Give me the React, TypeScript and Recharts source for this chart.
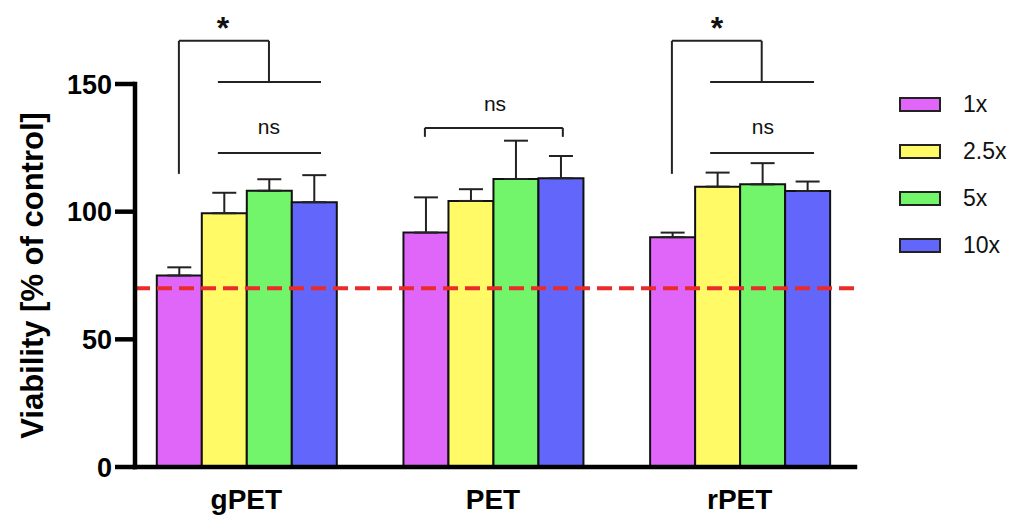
import React from 'react';
import { BarChart, Bar, XAxis, YAxis, ErrorBar, ReferenceLine, ReferenceDot } from 'recharts';

const categories = ['gPET', 'PET', 'rPET'];
const seriesNames = ['1x', '2.5x', '5x', '10x'];
const seriesColors = ['#E066FA', '#FFFA66', '#72F46B', '#6366FA'];
const values1x = [75, 91.8, 90];
const errors1x = [3.2, 13.8, 1.8];
const values25x = [99.4, 104.2, 109.8];
const errors25x = [8, 4.6, 5.5];
const values5x = [108.2, 112.8, 110.7];
const errors5x = [4.5, 15, 8.3];
const values10x = [103.7, 113.1, 108.1];
const errors10x = [10.6, 8.7, 3.7];
const yTicks = [0, 50, 100, 150];
const thresholdValue = 70;

// significance annotations: [xStart, yStart, xEnd, yEnd] on category index scale
const sigSegments: number[][] = [
  [-0.274, 114.8, -0.274, 166.9],
  [-0.274, 166.9, 0.091, 166.9],
  [0.091, 166.9, 0.091, 150.8],
  [-0.116, 150.8, 0.302, 150.8],
  [-0.116, 123, 0.302, 123],
  [0.723, 129.3, 0.723, 132.8],
  [0.723, 132.8, 1.282, 132.8],
  [1.282, 132.8, 1.282, 129.3],
  [1.724, 114.8, 1.724, 166.9],
  [1.724, 166.9, 2.088, 166.9],
  [2.088, 166.9, 2.088, 150.8],
  [1.879, 150.8, 2.3, 150.8],
  [1.879, 123, 2.3, 123],
];
const sigLabels = [
  { x: -0.095, y: 172, text: '*' },
  { x: 0.091, y: 133.5, text: 'ns' },
  { x: 1.007, y: 142.5, text: 'ns' },
  { x: 1.907, y: 172, text: '*' },
  { x: 2.093, y: 133.5, text: 'ns' },
];

const valueLists = [values1x, values25x, values5x, values10x];
const errorLists = [errors1x, errors25x, errors5x, errors10x];

const data = categories.map((c, i) => {
  const row: Record<string, any> = { name: c, idx: i };
  seriesNames.forEach((s, k) => {
    row['v' + k] = valueLists[k][i];
    row['e' + k] = [0, errorLists[k][i]];
  });
  return row;
});

const FONT = '"Liberation Sans", Arial, Helvetica, sans-serif';

export default function App() {
  return (
    <div style={{ position: 'relative', width: 1010, height: 512, fontFamily: FONT }}>
      <BarChart
        width={1010}
        height={512}
        data={data}
        margin={{ top: 76, right: 163, bottom: 0, left: 0 }}
        barCategoryGap="13.7%"
        barGap={0}
      >
        <XAxis
          xAxisId="cat"
          dataKey="name"
          padding={{ left: -12, right: -8 }}
          height={53}
          tickLine={false}
          tickMargin={16}
          axisLine={{ stroke: '#000', strokeWidth: 4.5, strokeLinecap: 'square' }}
          tick={{ fill: '#000', fontSize: 28, fontWeight: 'bold', fontFamily: FONT }}
        />
        <XAxis
          xAxisId="num"
          dataKey="idx"
          type="number"
          domain={[0, 2]}
          allowDataOverflow
          padding={{ left: 111.5, right: 115 }}
          hide
        />
        <YAxis
          width={127}
          domain={[0, 150]}
          ticks={yTicks}
          interval={0}
          tickSize={20}
          tickMargin={3}
          axisLine={{ stroke: '#000', strokeWidth: 4.5, strokeLinecap: 'square' }}
          tickLine={{ stroke: '#000', strokeWidth: 4.5 }}
          tick={{ fill: '#000', fontSize: 27, fontWeight: 'bold', fontFamily: FONT }}
          label={{
            value: 'Viability [% of control]',
            angle: -90,
            position: 'center',
            dx: -40,
            fill: '#000',
            fontSize: 31,
            fontWeight: 'bold',
            fontFamily: FONT,
          }}
        />
        {seriesNames.map((s, k) => (
          <Bar
            key={s}
            xAxisId="cat"
            dataKey={'v' + k}
            name={s}
            fill={seriesColors[k]}
            stroke="#111"
            strokeWidth={2}
            isAnimationActive={false}
          >
            <ErrorBar dataKey={'e' + k} direction="y" width={12} stroke="#222" strokeWidth={2} />
          </Bar>
        ))}
        <ReferenceLine
          xAxisId="cat"
          y={thresholdValue}
          stroke="#E92B2B"
          strokeWidth={4}
          strokeDasharray="15 7"
        />
        {sigSegments.map((s, i) => (
          <ReferenceLine
            key={'seg' + i}
            xAxisId="num"
            ifOverflow="visible"
            segment={[
              { x: s[0], y: s[1] },
              { x: s[2], y: s[3] },
            ]}
            stroke="#222"
            strokeWidth={2}
          />
        ))}
        {sigLabels.map((l, i) => (
          <ReferenceDot
            key={'lab' + i}
            xAxisId="num"
            x={l.x}
            y={l.y}
            r={0}
            fill="none"
            stroke="none"
            ifOverflow="visible"
            label={{
              value: l.text,
              position: 'center',
              fill: '#111',
              fontSize: l.text === '*' ? 32 : 21,
              fontWeight: l.text === '*' ? 'bold' : 'normal',
              fontFamily: FONT,
            }}
          />
        ))}
      </BarChart>
      <div style={{ position: 'absolute', left: 891, top: 73.6, fontFamily: FONT }}>
        {seriesNames.map((s, k) => (
          <div key={s} style={{ display: 'flex', alignItems: 'center', height: 46.7 }}>
            <div
              style={{
                width: 38,
                height: 11,
                background: seriesColors[k],
                border: '2px solid #222',
              }}
            />
            <span style={{ marginLeft: 22, fontSize: 23, color: '#111' }}>{s}</span>
          </div>
        ))}
      </div>
    </div>
  );
}
